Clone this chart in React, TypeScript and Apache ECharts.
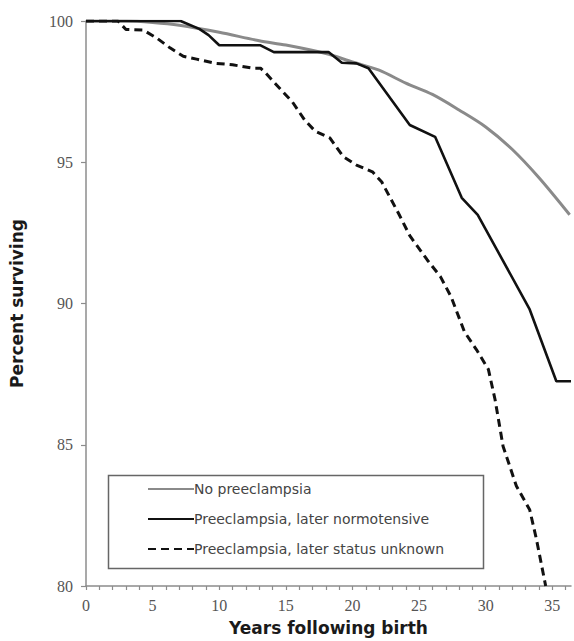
import React, { useEffect, useRef } from "react";
import * as echarts from "echarts";

const seriesNames = [
  "No preeclampsia",
  "Preeclampsia, later normotensive",
  "Preeclampsia, later status unknown",
];

const noPreeclampsia: [number, number][] = [
  [0, 100], [3, 100], [5, 99.95], [7, 99.85], [10, 99.6], [13, 99.3], [15, 99.15],
  [18, 98.85], [20, 98.55], [22, 98.26], [24, 97.8], [26, 97.4], [28, 96.85],
  [30, 96.25], [32, 95.45], [34, 94.45], [36.3, 93.14],
];

const laterNormotensive: [number, number][] = [
  [0, 100], [7.1, 100], [8.5, 99.72], [9.2, 99.5], [10, 99.14], [13.1, 99.14],
  [14.1, 98.9], [18.2, 98.9], [19.2, 98.52], [20.3, 98.5], [21.2, 98.33],
  [24.3, 96.32], [26.2, 95.9], [28.2, 93.74], [29.4, 93.14], [33.3, 89.79],
  [35.3, 87.25], [36.4, 87.25],
];

const laterUnknown: [number, number][] = [
  [0, 100], [2.4, 100], [3, 99.7], [4.3, 99.68], [5.3, 99.4], [6.3, 99.05],
  [7.3, 98.75], [8.3, 98.65], [9.75, 98.5], [11, 98.45], [12.5, 98.33],
  [13.1, 98.33], [13.5, 98.15], [14.8, 97.48], [15.5, 97.13], [16.4, 96.5],
  [17.2, 96.1], [18.3, 95.86], [19.3, 95.2], [20.3, 94.9], [21.5, 94.66],
  [22.2, 94.3], [23.5, 93.15], [24.3, 92.4], [25.6, 91.55], [26.6, 90.95],
  [27.4, 90.24], [28.4, 89.0], [29.3, 88.37], [30.2, 87.67], [30.7, 86.6],
  [31.3, 84.95], [32.3, 83.54], [33.3, 82.7], [33.8, 81.67], [34.5, 80.0],
];

const xTickValues: number[] = [];
for (let i = 0; i <= 36; i++) xTickValues.push(i);
const xLabelValues = [0, 5, 10, 15, 20, 25, 30, 35];

export default function App() {
  const ref = useRef<HTMLDivElement>(null);
  useEffect(() => {
    if (!ref.current) return;
    const chart = echarts.init(ref.current, undefined, { renderer: "svg" });
    const axisGray = "#8c8c8c";
    const serif = "'Liberation Serif', 'Times New Roman', serif";
    const nameStyle = {
      fontFamily: "DejaVu Sans",
      fontWeight: "bold",
      fontSize: 17,
      color: "#1a1a1a",
    };
    chart.setOption({
      animation: false,
      backgroundColor: "#ffffff",
      grid: { left: 86, right: 3, top: 21, bottom: 54 },
      xAxis: {
        type: "value",
        min: 0,
        max: 36.4,
        interval: 1,
        name: "Years following birth",
        nameLocation: "middle",
        nameGap: 33,
        nameTextStyle: nameStyle,
        axisLine: { show: true, lineStyle: { color: axisGray, width: 1.5 } },
        axisTick: {
          show: true,
          length: 4,
          inside: false,
          customValues: xTickValues,
          lineStyle: { color: axisGray, width: 1.2 },
        },
        axisLabel: {
          customValues: xLabelValues,
          fontFamily: serif,
          fontSize: 16,
          color: "#555",
          margin: 11,
        },
        splitLine: { show: false },
      },
      yAxis: {
        type: "value",
        min: 80,
        max: 100,
        interval: 5,
        name: "Percent surviving",
        nameLocation: "middle",
        nameGap: 61,
        nameTextStyle: nameStyle,
        axisLine: { show: true, lineStyle: { color: axisGray, width: 1.5 } },
        axisTick: { show: true, length: 5, inside: false, lineStyle: { color: axisGray, width: 1.2 } },
        axisLabel: {
          fontFamily: serif,
          fontSize: 16,
          color: "#555",
          margin: 13,
        },
        splitLine: { show: false },
      },
      legend: {
        orient: "vertical",
        left: 147,
        top: 482,
        itemWidth: 46,
        itemHeight: 14,
        itemGap: 16,
        padding: 0,
        selectedMode: false,
        itemStyle: { opacity: 0 },
        textStyle: {
          fontFamily: "DejaVu Sans",
          fontSize: 14,
          color: "#444",
          padding: [0, 0, 0, -5],
        },
        data: seriesNames,
      },
      graphic: [
        {
          type: "rect",
          left: 106,
          top: 473,
          shape: { width: 375, height: 93 },
          style: { fill: "none", stroke: "#666", lineWidth: 1.5 },
          z: 10,
        },
      ],
      series: [
        {
          name: seriesNames[0],
          type: "line",
          data: noPreeclampsia,
          symbol: "none",
          smooth: 0.3,
          lineStyle: { color: "#8a8a8a", width: 3 },
          itemStyle: { color: "#8a8a8a" },
          z: 2,
        },
        {
          name: seriesNames[1],
          type: "line",
          data: laterNormotensive,
          symbol: "none",
          lineStyle: { color: "#111", width: 2.6 },
          itemStyle: { color: "#111" },
          z: 3,
        },
        {
          name: seriesNames[2],
          type: "line",
          data: laterUnknown,
          symbol: "none",
          lineStyle: { color: "#111", width: 3, type: [8, 5] },
          itemStyle: { color: "#111" },
          z: 3,
        },
      ],
    });
    return () => chart.dispose();
  }, []);
  return (
    <div
      ref={ref}
      style={{ position: "fixed", left: 0, top: 0, width: 574, height: 641 }}
    />
  );
}
